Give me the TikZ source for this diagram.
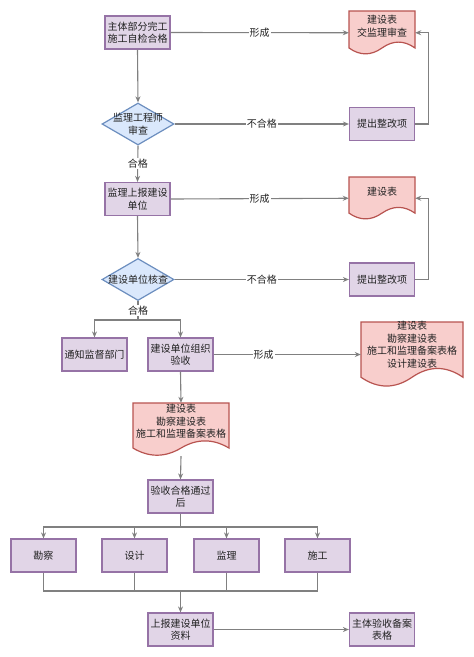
\documentclass[tikz,border=0pt]{standalone}
\usepackage{fontspec}
\newfontfamily\cjk{Noto Sans CJK SC}
\usetikzlibrary{arrows.meta,shapes.geometric}
\definecolor{pfill}{HTML}{E1D5E7}
\definecolor{pline}{HTML}{9673A6}
\definecolor{bfill}{HTML}{DAE8FC}
\definecolor{bline}{HTML}{6C8EBF}
\definecolor{rfill}{HTML}{F8CECC}
\definecolor{rline}{HTML}{B85450}
\definecolor{cline}{HTML}{808080}
\definecolor{ctext}{HTML}{222222}
\tikzset{
  txt/.style={font=\cjk\fontsize{10}{12.5}\selectfont, text=ctext, align=center, inner sep=0pt},
  pbox/.style={txt, draw=pline, fill=pfill, line width=1.2pt, minimum width=65pt, minimum height=33pt},
  dia/.style={diamond, draw=bline, fill=bfill, line width=1.2pt, minimum width=72pt, minimum height=42pt, inner sep=0pt},
  docst/.style={draw=rline, fill=rfill, line width=1.2pt},
  docnode/.style={rectangle, inner sep=0pt},
  conn/.style={draw=cline, line width=1.1pt},
  arr/.style={conn, -{Stealth[length=6pt,width=5pt]}},
  lbl/.style={txt, fill=white, inner sep=1pt},
}
\newcommand\docat[6]{%
  \filldraw[docst] (#2,#3) -- ({#2+#4},#3) -- ({#2+#4},{#3+0.85*#5})
    .. controls ({#2+5*#4/6},{#3+0.67*#5}) and ({#2+2*#4/3},{#3+0.67*#5}) .. ({#2+#4/2},{#3+0.85*#5})
    .. controls ({#2+#4/3},{#3+1.03*#5}) and ({#2+#4/6},{#3+1.03*#5}) .. (#2,{#3+0.85*#5}) -- cycle;
  \node[docnode, minimum width=#4pt, minimum height=#5pt] (#1) at ({#2+#4/2},{#3+#5/2}) {};
  \node[txt] (#1t) at ({#2+#4/2},{#3+0.35*#5}) {#6};
}
\begin{document}
\begin{tikzpicture}[x=1pt,y=-1pt]
\useasboundingbox[fill=white] (0,0) rectangle (474,657);

% nodes
\node[pbox] (b1) at (137.5,32.5) {主体部分完工\\施工自检合格};
\docat{d1}{349}{11}{66}{43.5}{建设表\\交监理审查}
\node[dia, label={[txt]center:监理工程师\\审查}] (dm1) at (138,124) {};
\node[pbox] (f1) at (382,124) {提出整改项};

\node[pbox] (b2) at (137.5,199) {监理上报建设\\单位};
\docat{d2}{349}{177}{66}{42.5}{建设表}
\node[dia, label={[txt]center:建设单位核查}] (dm2) at (138,279.5) {};
\node[pbox] (f2) at (382,279.5) {提出整改项};

\node[pbox] (b3) at (94.5,354.5) {通知监督部门};
\node[pbox] (b4) at (180.5,354.5) {建设单位组织\\验收};
\docat{d3}{361}{322}{102}{65}{建设表\\勘察建设表\\施工和监理备案表格\\设计建设表}
\docat{d4}{133}{403}{96}{53}{建设表\\勘察建设表\\施工和监理备案表格}

\node[pbox] (b5) at (180.5,496.5) {验收合格通过\\后};
\node[pbox] (kc) at (43.5,555.5) {勘察};
\node[pbox] (sj) at (134.5,555.5) {设计};
\node[pbox] (jl) at (226.5,555.5) {监理};
\node[pbox] (sg) at (317.5,555.5) {施工};
\node[pbox] (b6) at (180.5,629.5) {上报建设单位\\资料};
\node[pbox] (b7) at (382,629.5) {主体验收备案\\表格};

\coordinate (j1) at (138,320);
\coordinate (j2) at (180.5,527);
\coordinate (j3) at (180.5,591);

% connectors
\draw[arr] (b1.east) -- node[lbl] {形成} (d1.west);
\draw[arr] (b1.south) -- (dm1.north);
\draw[arr] (dm1.east) -- node[lbl] {不合格} (f1.west);
\draw[arr] (f1.east) -- ++(13,0) |- (d1.east);
\draw[arr] (dm1.south) -- node[lbl] {合格} (b2.north);

\draw[arr] (b2.east) -- node[lbl] {形成} (d2.west);
\draw[arr] (b2.south) -- (dm2.north);
\draw[arr] (dm2.east) -- node[lbl] {不合格} (f2.west);
\draw[arr] (f2.east) -- ++(13,0) |- (d2.east);
\draw[conn] (dm2.south) -- node[lbl] {合格} (j1);
\draw[arr] (j1) -| (b3.north);
\draw[arr] (j1) -| (b4.north);

\draw[arr] (b4.east) -- node[lbl, pos=0.34] {形成} (d3.west);
\draw[arr] (b4.south) -- (d4.north);
\draw[arr] (d4.south) -- (b5.north);

\draw[conn] (b5.south) -- (j2);
\draw[arr] (j2) -| (kc.north);
\draw[arr] (j2) -| (sj.north);
\draw[arr] (j2) -| (jl.north);
\draw[arr] (j2) -| (sg.north);

\draw[conn] (kc.south) |- (j3);
\draw[conn] (sj.south) |- (j3);
\draw[conn] (jl.south) |- (j3);
\draw[conn] (sg.south) |- (j3);
\draw[arr] (j3) -- (b6.north);
\draw[arr] (b6.east) -- (b7.west);
\end{tikzpicture}
\end{document}
